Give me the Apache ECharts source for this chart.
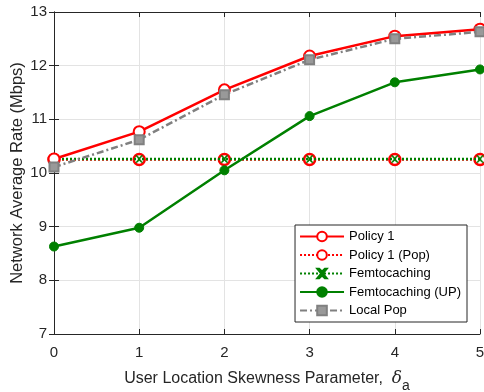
<!DOCTYPE html>
<html><head><meta charset="utf-8">
<script src="https://cdn.jsdelivr.net/npm/echarts@6/dist/echarts.min.js"></script>
<style>html,body{margin:0;padding:0;background:#fff}#c{width:484px;height:392px}</style>
</head><body><div id="c"></div>
<script>
const xValues = [0, 1, 2, 3, 4, 5];
const policy1 = [10.26, 10.77, 11.55, 12.18, 12.55, 12.68];
const policy1Pop = [10.25, 10.25, 10.25, 10.25, 10.25, 10.25];
const femtocaching = [10.26, 10.26, 10.26, 10.26, 10.26, 10.26];
const femtocachingUP = [8.63, 8.98, 10.05, 11.06, 11.69, 11.93];
const localPop = [10.11, 10.62, 11.46, 12.11, 12.5, 12.63];
const xTicks = [0, 1, 2, 3, 4, 5];
const yTicks = [7, 8, 9, 10, 11, 12, 13];

const font = 'Liberation Sans, Arial, Helvetica, sans-serif';
const axisCol = '#262626';
const xMark = 'path://M0,0 L2,0 L5,3 L8,0 L10,0 L6,5 L10,10 L8,10 L5,7 L2,10 L0,10 L4,5 Z';

function pts(arr){ return arr.map((v,i)=>[xValues[i], v]); }

const chart = echarts.init(document.getElementById('c'), null, {renderer:'canvas'});
const baseAxis = {
  axisLine:{show:true, lineStyle:{color:axisCol, width:1}},
  axisTick:{show:true, inside:true, length:5, lineStyle:{color:axisCol}},
};
chart.setOption({
  animation:false,
  backgroundColor:'#fff',
  grid:{left:54, right:4, top:12, bottom:58, containLabel:false, outerBoundsMode:'none'},
  xAxis:[
    Object.assign({type:'value', min:xTicks[0], max:xTicks[xTicks.length-1], interval:1, position:'bottom',
      axisLabel:{color:axisCol, fontSize:15, fontFamily:font, margin:11},
      splitLine:{show:true, lineStyle:{color:'#e3e3e3', width:1}},
      name:'User Location Skewness Parameter,  {d|δ}{s|a}', nameLocation:'middle', nameGap:30, nameMoveOverlap:false,
      nameTextStyle:{color:axisCol, fontSize:16, fontFamily:font,
        rich:{d:{fontSize:17, fontStyle:'italic', fontFamily:'DejaVu Serif, serif', color:axisCol},
              s:{fontSize:14, fontFamily:font, color:axisCol, padding:[15,0,0,0]}}}
    }, baseAxis),
    Object.assign({type:'value', min:0, max:5, interval:1, position:'top',
      axisLabel:{show:false}, splitLine:{show:false}}, baseAxis)
  ],
  yAxis:[
    Object.assign({type:'value', min:yTicks[0], max:yTicks[yTicks.length-1], interval:1, position:'left',
      axisLabel:{color:axisCol, fontSize:15, fontFamily:font, margin:7},
      splitLine:{show:true, lineStyle:{color:'#e3e3e3', width:1}},
      name:'Network Average Rate (Mbps)', nameLocation:'middle', nameGap:28, nameRotate:90, nameMoveOverlap:false,
      nameTextStyle:{color:axisCol, fontSize:16.5, fontFamily:font}
    }, baseAxis),
    Object.assign({type:'value', min:7, max:13, interval:1, position:'right',
      axisLabel:{show:false}, splitLine:{show:false}}, baseAxis)
  ],
  legend:{
    orient:'vertical', right:17, top:225, itemWidth:44, itemHeight:12, itemGap:5.5,
    backgroundColor:'#fff', borderColor:axisCol, borderWidth:1, borderRadius:0,
    padding:[5,6,5,4],
    textStyle:{fontSize:13, fontFamily:font, color:'#000'},
    data:['Policy 1','Policy 1 (Pop)','Femtocaching','Femtocaching (UP)','Local Pop']
  },
  series:[
    {name:'Policy 1', type:'line', data:pts(policy1), z:5,
      lineStyle:{color:'#ff0000', width:2.5}, itemStyle:{color:'#fff', borderColor:'#ff0000', borderWidth:2},
      symbol:'circle', symbolSize:11, showAllSymbol:true},
    {name:'Policy 1 (Pop)', type:'line', data:pts(policy1Pop), z:3,
      lineStyle:{color:'#ff0000', width:2.5, type:[2,2]}, itemStyle:{color:'#fff', borderColor:'#ff0000', borderWidth:2.5},
      symbol:'circle', symbolSize:11},
    {name:'Femtocaching', type:'line', data:pts(femtocaching), z:4,
      lineStyle:{color:'#008000', width:2.5, type:[2,2]}, itemStyle:{color:'#008000', borderColor:'#008000', borderWidth:0.5},
      symbol:xMark, symbolSize:7},
    {name:'Femtocaching (UP)', type:'line', data:pts(femtocachingUP), z:4,
      lineStyle:{color:'#008000', width:2.5}, itemStyle:{color:'#008000', borderColor:'#008000', borderWidth:1},
      symbol:'circle', symbolSize:9},
    {name:'Local Pop', type:'line', data:pts(localPop), z:6,
      lineStyle:{color:'#808080', width:2.5, type:[7,3,2,3]}, itemStyle:{color:'#999999', borderColor:'#808080', borderWidth:2},
      symbol:'rect', symbolSize:9}
  ]
});
</script></body></html>
